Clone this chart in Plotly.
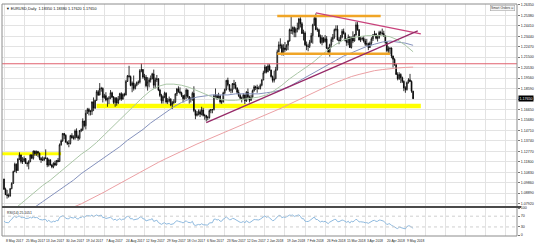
import numpy as np
import pandas as pd
import plotly.graph_objects as go

# ---------------- data (EURUSD daily, prices in pips = price*10000) ----------------
# bar 0 = 8 May 2017 ... bar 265 = 16 May 2018
open_pips = [
    11020,10925,10875,10868,10862,10932,10980,11090,11158,11100,11206,11243,11182,11183,11210,11166,11163,11183,  # May 17
    11243,11213,11280,11254,11275,11260,11212,11196,11196,11213,11215,11150,11198,11150,11133,11167,11150,11193,11182,11337,11375,11443,  # Jun
    11425,11363,11350,11350,11423,11401,11400,11465,11414,11398,11470,11478,11558,11515,11630,11665,11645,11647,11735,11678,11750,  # Jul
    11830,11800,11860,11860,11775,11793,11752,11770,11770,11820,11780,11730,11770,11725,11760,11812,11762,11805,11800,11925,11978,11970,11888,  # Aug
    11910,11860,11890,11915,11918,12025,12035,11965,11965,11885,11920,11940,11950,11995,11890,11940,11950,11845,11795,11745,11785,  # Sep
    11815,11735,11745,11760,11705,11730,11735,11810,11855,11830,11820,11795,11765,11790,11845,11785,11760,11765,11815,11655,11610,11625,  # Oct
    11645,11620,11660,11610,11610,11590,11590,11655,11665,11665,11795,11795,11770,11790,11735,11735,11820,11850,11935,11895,11845,11845,  # Nov
    11905,11895,11865,11825,11795,11770,11770,11800,11745,11825,11780,11750,11780,11840,11875,11870,11860,11860,11890,11940,  # Dec
    12005,12060,12015,12070,12030,11970,11935,11950,12035,12200,12265,12260,12180,12235,12220,12260,12300,12405,12395,12425,12380,12410,  # Jan 18
    12415,12505,12460,12370,12375,12265,12250,12250,12290,12350,12450,12510,12405,12405,12340,12285,12330,12295,12320,12235,  # Feb
    12195,12265,12315,12335,12405,12410,12310,12305,12335,12390,12370,12305,12285,12335,12240,12335,12300,12355,12450,12405,12310,12320,  # Mar
    12325,12300,12270,12275,12240,12280,12320,12355,12365,12325,12330,12380,12375,12370,12345,12285,12210,12230,12235,12160,12130,  # Apr
    12080,11990,11950,11990,11960,11925,11865,11850,11915,11940,11925,11835,  # May 18
]
high_pips = [
    11023,10940,10920,10886,10935,10990,11098,11172,11164,11213,11268,11248,11223,11230,11215,11180,11195,11250,
    11250,11285,11285,11285,11282,11265,11225,11230,11225,11295,11220,11210,11203,11160,11175,11190,11195,11215,11350,11387,11445,11447,
    11435,11370,11380,11430,11445,11425,11480,11490,11430,11475,11490,11583,11560,11660,11680,11680,11660,11740,11777,11755,11845,
    11845,11910,11875,11870,11810,11825,11775,11790,11845,11830,11790,11780,11780,11790,11820,11825,11815,11820,11940,11985,12070,11980,11925,
    11980,11905,11925,11935,12040,12092,12040,11995,11985,11965,11960,11980,12005,12035,11960,11985,11955,11855,11810,11795,11830,
    11825,11770,11785,11770,11745,11760,11815,11865,11880,11870,11830,11800,11805,11860,11850,11790,11780,11830,11880,11665,11650,11665,
    11665,11690,11680,11625,11615,11605,11665,11670,11670,11805,11860,11805,11820,11800,11755,11830,11860,11940,11960,11900,11860,11910,
    11940,11920,11870,11850,11810,11785,11815,11805,11835,11860,11795,11800,11850,11890,11885,11895,11880,11905,11945,12025,
    12080,12065,12090,12085,12035,11980,12025,12060,12220,12295,12325,12275,12270,12290,12270,12310,12415,12537,12435,12435,12425,12470,
    12515,12520,12475,12405,12390,12295,12275,12310,12375,12460,12530,12555,12425,12415,12360,12355,12335,12355,12345,12245,
    12275,12335,12365,12415,12445,12445,12335,12355,12410,12415,12380,12325,12360,12345,12340,12390,12365,12475,12475,12410,12345,12335,
    12345,12320,12320,12285,12295,12335,12365,12395,12375,12355,12395,12395,12415,12395,12355,12295,12250,12240,12240,12165,12140,
    12085,12010,12010,12000,11970,11935,11880,11925,11955,11995,11935,11838,
]
low_pips = [
    10920,10873,10839,10848,10858,10925,10975,11085,11075,11095,11195,11165,11160,11180,11160,11135,11110,11175,
    11205,11200,11235,11235,11225,11195,11170,11190,11185,11205,11130,11135,11145,11120,11120,11140,11145,11175,11180,11330,11365,11390,
    11355,11335,11315,11340,11395,11385,11385,11400,11375,11385,11455,11465,11500,11480,11625,11610,11610,11615,11650,11670,11745,
    11790,11795,11830,11730,11765,11740,11690,11715,11760,11770,11715,11690,11700,11715,11750,11745,11755,11785,11795,11920,11960,11880,11825,
    11840,11850,11880,11895,11905,12010,11950,11935,11870,11840,11870,11915,11945,11860,11860,11920,11835,11780,11720,11720,11770,
    11720,11715,11730,11695,11669,11715,11725,11790,11820,11805,11780,11730,11755,11760,11770,11720,11730,11745,11640,11575,11600,11610,
    11595,11610,11600,11570,11554,11565,11580,11630,11630,11655,11770,11755,11765,11720,11715,11730,11805,11840,11880,11830,11815,11820,
    11855,11850,11810,11780,11760,11730,11760,11715,11735,11770,11730,11745,11770,11830,11845,11820,11850,11850,11880,11935,
    12000,12000,12010,12025,11960,11915,11915,11945,12025,12195,12230,12165,12165,12200,12210,12215,12295,12365,12360,12335,12335,12380,
    12400,12425,12365,12305,12255,12215,12205,12235,12280,12275,12440,12400,12385,12335,12275,12260,12280,12285,12225,12190,
    12155,12240,12290,12320,12390,12305,12270,12290,12325,12360,12295,12255,12260,12235,12230,12280,12295,12350,12395,12305,12290,12305,
    12285,12255,12255,12215,12235,12260,12300,12350,12315,12295,12320,12355,12355,12340,12275,12195,12185,12180,12140,12055,12070,
    11985,11935,11940,11910,11910,11835,11820,11840,11905,11920,11820,11762,
]
close_pips = [
    10925,10875,10868,10862,10932,10980,11090,11158,11100,11206,11243,11182,11183,11210,11166,11163,11183,11243,
    11213,11280,11254,11275,11260,11212,11196,11196,11213,11215,11150,11198,11150,11133,11167,11150,11193,11182,11337,11375,11443,11425,
    11363,11350,11350,11423,11401,11400,11465,11414,11398,11470,11478,11558,11515,11630,11665,11645,11647,11735,11678,11750,11830,
    11800,11860,11860,11775,11793,11752,11770,11770,11820,11780,11730,11770,11725,11760,11812,11762,11805,11800,11925,11978,11970,11888,11910,
    11860,11890,11915,11918,12025,12035,11965,11965,11885,11920,11940,11950,11995,11890,11940,11950,11845,11795,11745,11785,11815,
    11735,11745,11760,11705,11730,11735,11810,11855,11830,11820,11795,11765,11790,11845,11785,11760,11765,11815,11655,11610,11625,11645,
    11620,11660,11610,11610,11590,11590,11655,11665,11665,11795,11795,11770,11790,11735,11735,11820,11850,11935,11895,11845,11845,11905,
    11895,11865,11825,11795,11770,11770,11800,11745,11825,11780,11750,11780,11840,11875,11870,11860,11860,11890,11940,12005,
    12060,12015,12070,12030,11970,11935,11950,12035,12200,12265,12260,12180,12235,12220,12260,12300,12405,12395,12425,12380,12410,12415,
    12505,12460,12370,12375,12265,12250,12250,12290,12350,12450,12510,12405,12405,12340,12285,12330,12295,12320,12235,12195,
    12265,12315,12335,12405,12410,12310,12305,12335,12390,12370,12305,12285,12335,12240,12335,12300,12355,12450,12405,12310,12320,12325,
    12300,12270,12275,12240,12280,12320,12355,12365,12325,12330,12380,12375,12370,12345,12285,12210,12230,12235,12160,12130,12080,
    11990,11950,11990,11960,11925,11865,11850,11915,11940,11925,11835,11765,
]
# closes 18 Apr - 5 May 2017 (RSI warm-up only)
prior_close_pips = [10730,10715,10715,10725,10855,10930,10890,10875,10895,10900,10935,10885,10985,10998]

# date labels: one every 13 bars, starting at bar 0
date_labels = ["8 May 2017","25 May 2017","13 Jun 2017","30 Jun 2017","19 Jul 2017","7 Aug 2017",
               "24 Aug 2017","12 Sep 2017","29 Sep 2017","18 Oct 2017","6 Nov 2017","23 Nov 2017",
               "12 Dec 2017","2 Jan 2018","19 Jan 2018","7 Feb 2018","26 Feb 2018","15 Mar 2018",
               "3 Apr 2018","20 Apr 2018","9 May 2018"]
label_step = 13

price_ticks = [1.2635,1.2538,1.2441,1.2344,1.2247,1.2150,1.2053,1.1956,1.1859,1.1762,
               1.1665,1.1568,1.1471,1.1374,1.1277,1.1180,1.1083,1.0986,1.0889,1.0792]
rsi_ticks = [0, 30, 70, 100]

# moving averages, one value every 5 bars (bars 0..265)
ma_step = 5
sma50 = [1.0660,1.0720,1.0780,1.0840,1.0900,1.0960,1.1010,1.1070,1.1130,1.1190,1.1250,1.1300,1.1360,1.1430,
         1.1500,1.1570,1.1640,1.1710,1.1780,1.1840,1.1880,1.1900,1.1900,1.1890,1.1870,1.1840,1.1810,1.1780,
         1.1760,1.1750,1.1750,1.1760,1.1770,1.1780,1.1800,1.1840,1.1890,1.1950,1.2000,1.2050,1.2100,1.2160,
         1.2220,1.2270,1.2310,1.2330,1.2340,1.2350,1.2350,1.2350,1.2340,1.2310,1.2260,1.2200]
sma100 = [1.0640,1.0660,1.0690,1.0720,1.0760,1.0810,1.0860,1.0910,1.0960,1.1010,1.1070,1.1120,1.1170,1.1220,
          1.1270,1.1320,1.1380,1.1430,1.1480,1.1540,1.1590,1.1640,1.1690,1.1730,1.1760,1.1780,1.1790,1.1800,
          1.1800,1.1800,1.1810,1.1810,1.1810,1.1810,1.1820,1.1830,1.1850,1.1880,1.1920,1.1960,1.2000,1.2040,
          1.2080,1.2120,1.2160,1.2190,1.2220,1.2250,1.2270,1.2290,1.2300,1.2290,1.2280,1.2260]
sma200 = [1.0680,1.0685,1.0690,1.0695,1.0700,1.0705,1.0715,1.0725,1.0740,1.0760,1.0790,1.0825,1.0860,1.0900,
          1.0940,1.0980,1.1020,1.1060,1.1100,1.1140,1.1175,1.1210,1.1245,1.1280,1.1315,1.1345,1.1375,1.1405,
          1.1435,1.1465,1.1495,1.1525,1.1555,1.1585,1.1615,1.1645,1.1680,1.1715,1.1750,1.1785,1.1820,1.1855,
          1.1885,1.1915,1.1945,1.1970,1.1990,1.2010,1.2025,1.2035,1.2045,1.2050,1.2055,1.2058]

# analyst drawings (bar index, price)
red_level = 1.2089
yellow_zones = [(-2, 37, 1.1240, 1.1268), (60, 270, 1.1677, 1.1719)]
orange_lines = [(177, 244, 1.2532), (177, 250, 1.2181)]
trend_lines = [(202, 270, 1.2560, 1.2366), (131, 268, 1.1544, 1.2393)]

# ---------------- figure ----------------
o = np.array(open_pips) / 1e4
h = np.array(high_pips) / 1e4
l = np.array(low_pips) / 1e4
c = np.array(close_pips) / 1e4
n = len(c)
assert len(o) == len(h) == len(l) == n
x = np.arange(n)

allc = pd.Series(prior_close_pips + close_pips, dtype=float) / 1e4
d = allc.diff()
ag = d.clip(lower=0).ewm(alpha=1/14, adjust=False).mean()
al = (-d.clip(upper=0)).ewm(alpha=1/14, adjust=False).mean()
rsi = (100 - 100 / (1 + ag / al)).iloc[len(prior_close_pips):].values

fig = go.Figure()
fig.add_trace(go.Candlestick(
    x=x, open=o, high=h, low=l, close=c, xaxis="x", yaxis="y",
    increasing=dict(line=dict(color="#000000", width=0.8), fillcolor="#ffffff"),
    decreasing=dict(line=dict(color="#000000", width=0.8), fillcolor="#000000"),
    whiskerwidth=0, showlegend=False, hoverinfo="skip"))

ma_x = np.arange(0, n, ma_step)
for vals, col in [(sma200, "#eba0a4"), (sma100, "#8592bd"), (sma50, "#aac6a6")]:
    fig.add_trace(go.Scatter(x=ma_x, y=vals, mode="lines", line=dict(color=col, width=1),
                             xaxis="x", yaxis="y", showlegend=False, hoverinfo="skip"))

fig.add_trace(go.Scatter(x=x, y=rsi, mode="lines", line=dict(color="#8fbadf", width=1),
                         xaxis="x2", yaxis="y2", showlegend=False, hoverinfo="skip"))

W, H = 536, 244
top, bottom = 3, 236
main_bot = (bottom - 206) / (bottom - top)
rsi_top = (bottom - 208) / (bottom - top)
xr = [-1.3, 332.3]
grid_x = list(range(0, 333, label_step))
grid = "#e3e3e3"

fig.update_layout(
    width=W, height=H, margin=dict(l=2, r=17, t=top, b=H - bottom),
    paper_bgcolor="white", plot_bgcolor="white", showlegend=False,
    font=dict(family="Liberation Sans, Arial, sans-serif", color="#222"),
    xaxis=dict(domain=[0, 1], range=xr, anchor="y", tickvals=grid_x, showticklabels=False,
               showgrid=True, gridcolor=grid, gridwidth=1, zeroline=False,
               rangeslider=dict(visible=False), ticks=""),
    yaxis=dict(domain=[main_bot, 1], range=[1.0769, 1.2643], side="right", anchor="x",
               tickvals=price_ticks, ticktext=[f"{v:.5f}" for v in price_ticks],
               showgrid=True, gridcolor=grid, zeroline=False,
               ticks="outside", ticklen=2, tickcolor="#777", tickfont=dict(size=3.6, color="#222")),
    xaxis2=dict(domain=[0, 1], range=xr, anchor="y2", tickvals=grid_x, showticklabels=False,
                showgrid=True, gridcolor=grid, zeroline=False, ticks=""),
    yaxis2=dict(domain=[0, rsi_top], range=[-3.7, 100], side="right", anchor="x2",
                tickvals=rsi_ticks, ticktext=[str(v) for v in rsi_ticks], showgrid=False,
                zeroline=False, ticks="outside", ticklen=2, tickcolor="#777",
                tickfont=dict(size=3.6, color="#222")),
)

shapes = []
for x0, x1, y0, y1 in yellow_zones:
    shapes.append(dict(type="rect", xref="x", yref="y", x0=x0, x1=x1, y0=y0, y1=y1,
                       fillcolor="#ffff00", line=dict(width=0), layer="between"))
shapes.append(dict(type="line", xref="paper", yref="y", x0=0, x1=1, y0=red_level, y1=red_level,
                   line=dict(color="#e0606e", width=1)))
for x0, x1, yv in orange_lines:
    shapes.append(dict(type="line", xref="x", yref="y", x0=x0, x1=x1, y0=yv, y1=yv,
                       line=dict(color="#f0a526", width=2.5)))
for (x0, x1, y0, y1), col in zip(trend_lines, ["#c9437c", "#962a68"]):
    shapes.append(dict(type="line", xref="x", yref="y", x0=x0, x1=x1, y0=y0, y1=y1,
                       line=dict(color=col, width=1.3)))
for lv in (30, 70):
    shapes.append(dict(type="line", xref="paper", yref="y2", x0=0, x1=1, y0=lv, y1=lv,
                       line=dict(color="#cfcfcf", width=1, dash="dot")))
shapes.append(dict(type="rect", xref="paper", yref="paper", x0=0, x1=1, y0=0, y1=1,
                   line=dict(color="#8c8c8c", width=1)))
sep = (bottom - 207) / (bottom - top)
shapes.append(dict(type="line", xref="paper", yref="paper", x0=0, x1=1.008, y0=sep, y1=sep,
                   line=dict(color="#4a4a4a", width=2)))
fig.update_layout(shapes=shapes)

ann = []
ann.append(dict(xref="paper", yref="paper", x=0.004, y=1, xanchor="left", yanchor="top", yshift=-1,
                text=f"▼ EURUSD,Daily  {o[-1]:.5f} {h[-1]:.5f} {l[-1]:.5f} {c[-1]:.5f}",
                showarrow=False, font=dict(size=3.8, color="#111")))
ann.append(dict(xref="paper", yref="paper", x=0.997, y=1, xanchor="right", yanchor="top", yshift=-1,
                text="Smart Orders ⊙", showarrow=False, bgcolor="#f4f4f4", bordercolor="#999",
                borderwidth=0.5, borderpad=0.5, font=dict(size=3.2, color="#333")))
ann.append(dict(xref="paper", yref="y", x=1, y=c[-1], xanchor="left", yanchor="middle", xshift=1,
                text=f"{c[-1]:.5f}", showarrow=False, bgcolor="#000000", borderpad=0.5,
                font=dict(size=3.6, color="#ffffff")))
ann.append(dict(xref="paper", yref="paper", x=0.006, y=rsi_top, xanchor="left", yanchor="top", yshift=-1,
                text=f"RSI(14) {rsi[-1]:.4f}", showarrow=False, font=dict(size=3.4, color="#222")))
for i, lab in enumerate(date_labels):
    ann.append(dict(xref="x", yref="paper", x=i * label_step, y=0, xanchor="left", yanchor="top",
                    yshift=-1, text=lab, showarrow=False, font=dict(size=3.3, color="#222")))
fig.update_layout(annotations=ann)

fig.write_html("out.html")
